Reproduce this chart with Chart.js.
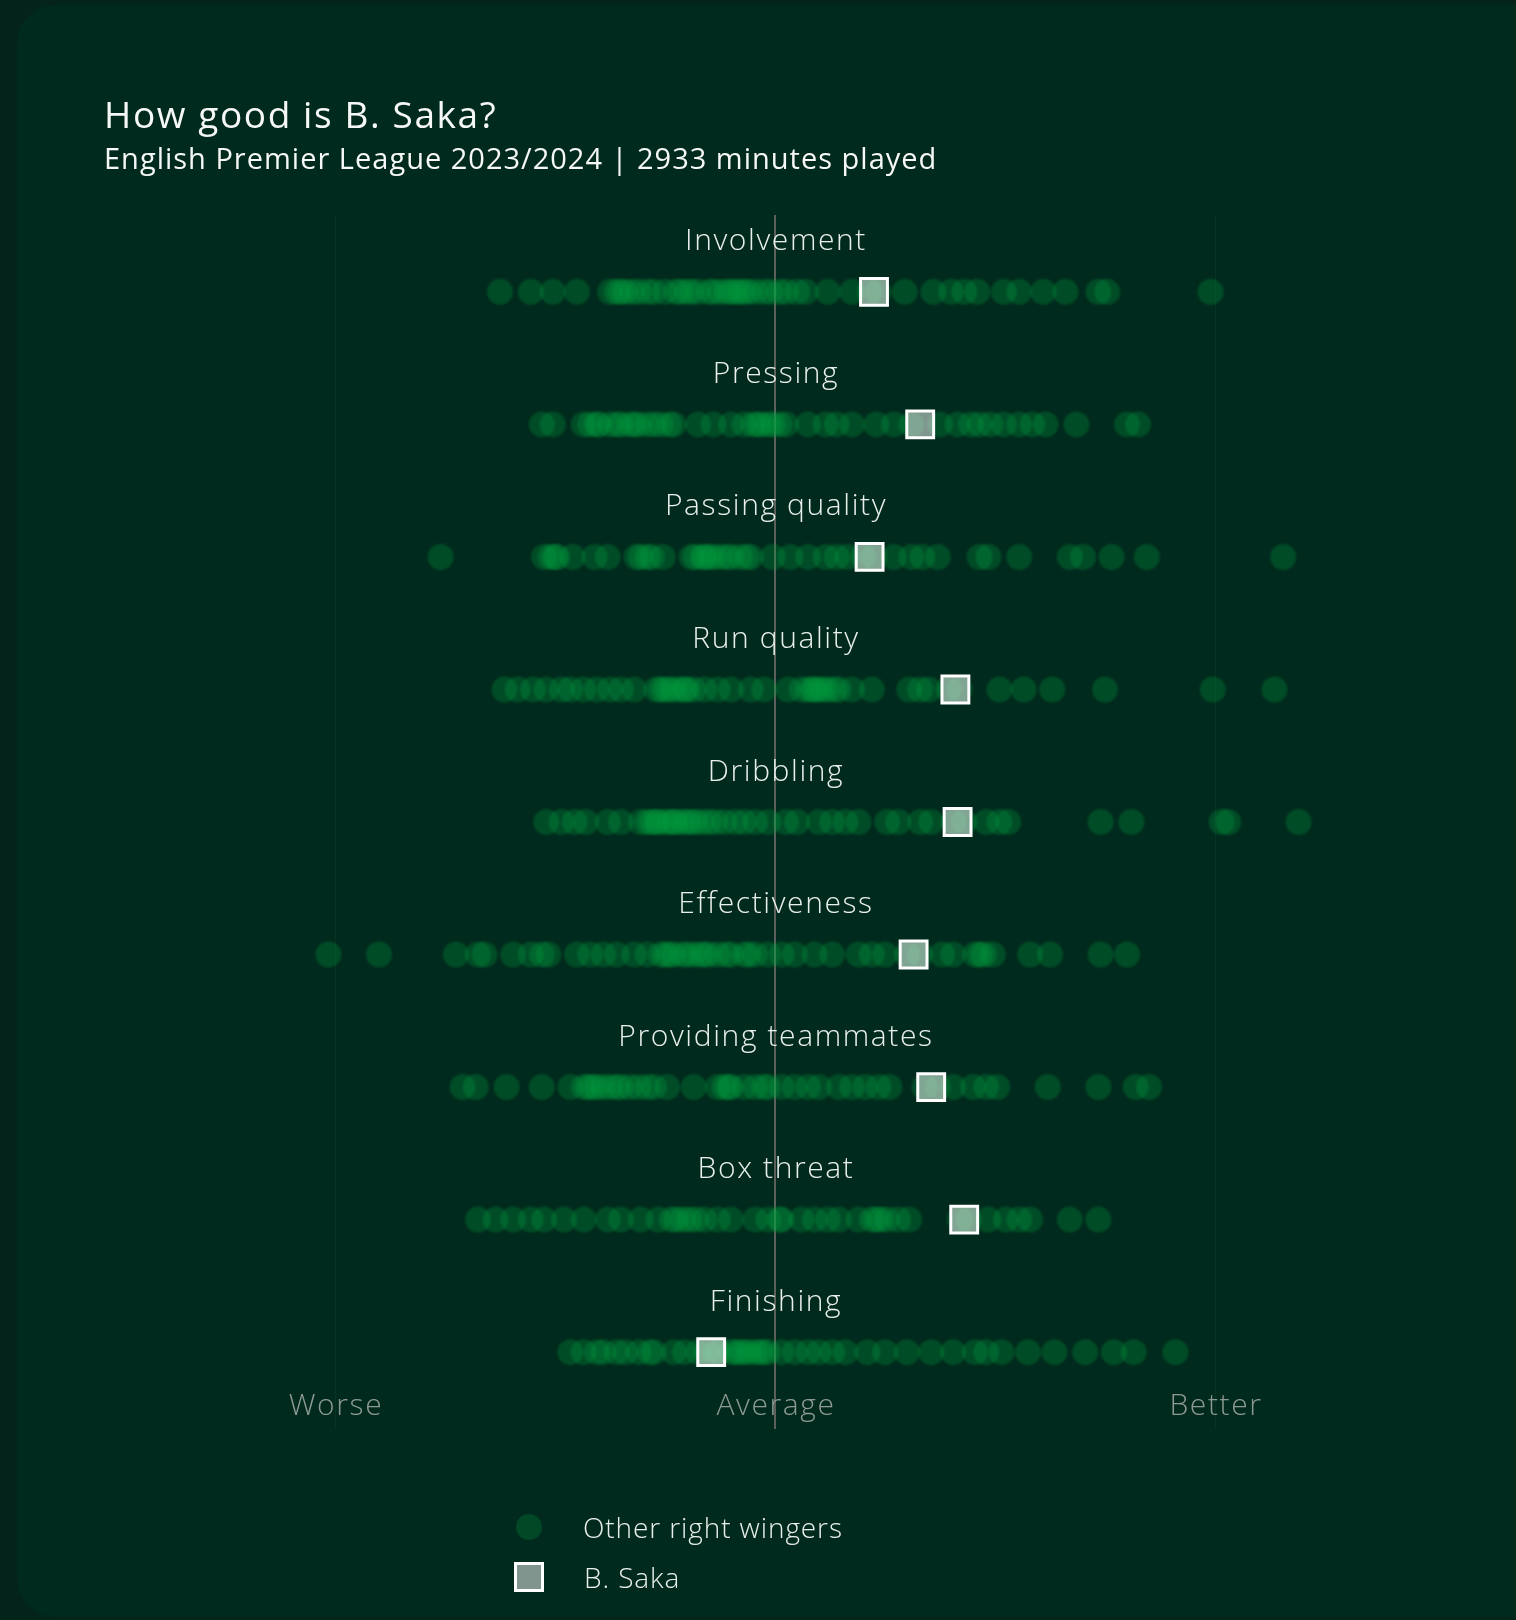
<!DOCTYPE html>
<html>
<head>
<meta charset="utf-8">
<script src="https://cdn.jsdelivr.net/npm/chart.js@4.4.1/dist/chart.umd.min.js"></script>
<style>
  html, body { margin: 0; padding: 0; background: #04231a; overflow: hidden; }
  body { width: 1516px; height: 1620px; position: relative; font-family: "Open Sans", "Noto Sans", sans-serif; }
  .card { position: absolute; left: 17px; top: 5px; width: 1540px; height: 1612px; background: #002a1d; border-radius: 38px; }
  #chart { position: absolute; left: 0; top: 0; }
  .title { position: absolute; left: 104px; top: 88px; color: #f5f8f6; font-size: 37px; font-weight: 400; letter-spacing: 1.6px; white-space: nowrap; }
  .subtitle { position: absolute; left: 104px; top: 138px; color: #f5f8f6; font-size: 29px; font-weight: 400; letter-spacing: 1px; white-space: nowrap; }
  .legend { position: absolute; left: 513px; top: 1502px; color: #e9efeb; font-size: 28px; font-weight: 300; letter-spacing: 0.9px; }
  .legend .item { position: relative; height: 50px; display: flex; align-items: center; }
  .legend .dot { width: 26px; height: 26px; border-radius: 50%; background: rgba(0,160,65,0.26); margin-left: 3px; margin-right: 41px; }
  .legend .sq { width: 24px; height: 24px; background: rgba(255,255,255,0.5); border: 3px solid #ffffff; margin-left: 1px; margin-right: 40px; }
</style>
</head>
<body>
<div class="card"></div>
<canvas id="chart" width="1516" height="1620"></canvas>
<div class="title">How good is B. Saka?</div>
<div class="subtitle">English Premier League 2023/2024 | 2933 minutes played</div>
<div class="legend">
  <div class="item"><div class="dot"></div><span>Other right wingers</span></div>
  <div class="item"><div class="sq"></div><span>B. Saka</span></div>
</div>
<script>
// categorias (de cima para baixo)
const categories = ['Involvement', 'Pressing', 'Passing quality', 'Run quality', 'Dribbling',
    'Effectiveness', 'Providing teammates', 'Box threat', 'Finishing'];

// eixo: Worse / Average / Better
const axisTicks = [-2, 0, 2];
const axisLabels = ['Worse', 'Average', 'Better'];

// B. Saka
const sakaValues = [0.45, 0.66, 0.43, 0.82, 0.83, 0.63, 0.71, 0.86, -0.29];

// outros pontas direitos
const involvement = [-1.25, -1.11, -1.01, -0.90, -0.75, -0.72, -0.70, -0.68, -0.65, -0.62, -0.58, -0.55, -0.50,
    -0.45, -0.43, -0.40, -0.38, -0.35, -0.30, -0.28, -0.25, -0.22, -0.20, -0.18, -0.16, -0.14, -0.12, -0.09,
    -0.05, -0.02, 0.02, 0.05, 0.10, 0.14, 0.24, 0.35, 0.43, 0.47, 0.59, 0.72, 0.80, 0.86, 0.92, 1.04, 1.11,
    1.22, 1.32, 1.47, 1.51, 1.98];
const pressing = [-1.06, -1.01, -0.87, -0.84, -0.81, -0.80, -0.75, -0.72, -0.70, -0.66, -0.64, -0.62, -0.58,
    -0.55, -0.52, -0.48, -0.46, -0.35, -0.28, -0.20, -0.14, -0.10, -0.08, -0.06, -0.03, -0.01, 0.02, 0.05,
    0.15, 0.23, 0.28, 0.35, 0.46, 0.54, 0.62, 0.75, 0.83, 0.89, 0.93, 0.98, 1.04, 1.11, 1.17, 1.23, 1.37,
    1.60, 1.65];
const passingQuality = [-1.52, -1.05, -1.02, -1.00, -0.99, -0.92, -0.82, -0.76, -0.63, -0.61, -0.58, -0.56,
    -0.51, -0.38, -0.36, -0.33, -0.32, -0.30, -0.28, -0.25, -0.22, -0.20, -0.16, -0.13, -0.11, -0.01, 0.07,
    0.15, 0.23, 0.28, 0.33, 0.40, 0.45, 0.54, 0.62, 0.67, 0.74, 0.93, 0.97, 1.11, 1.34, 1.40, 1.53, 1.69, 2.31];
const runQuality = [-1.23, -1.17, -1.10, -1.04, -0.97, -0.93, -0.87, -0.81, -0.75, -0.70, -0.64, -0.54, -0.52,
    -0.50, -0.48, -0.46, -0.43, -0.41, -0.40, -0.37, -0.32, -0.26, -0.20, -0.11, -0.05, 0.06, 0.12, 0.15,
    0.17, 0.18, 0.20, 0.22, 0.24, 0.27, 0.29, 0.35, 0.44, 0.61, 0.66, 0.70, 0.79, 0.84, 1.02, 1.13, 1.26,
    1.50, 1.99, 2.27];
const dribbling = [-1.04, -0.97, -0.91, -0.86, -0.76, -0.70, -0.61, -0.58, -0.56, -0.54, -0.53, -0.50, -0.48,
    -0.46, -0.45, -0.42, -0.40, -0.38, -0.36, -0.33, -0.30, -0.27, -0.23, -0.18, -0.14, -0.09, -0.03, 0.05,
    0.10, 0.20, 0.26, 0.32, 0.38, 0.51, 0.56, 0.66, 0.71, 0.81, 0.86, 0.96, 1.02, 1.06, 1.48, 1.62, 2.03,
    2.06, 2.38];
const effectiveness = [-2.03, -1.80, -1.45, -1.35, -1.32, -1.19, -1.11, -1.06, -1.03, -0.90, -0.84, -0.78, -0.72,
    -0.64, -0.58, -0.52, -0.50, -0.48, -0.46, -0.42, -0.40, -0.37, -0.34, -0.32, -0.30, -0.26, -0.22, -0.20,
    -0.14, -0.12, -0.09, -0.03, 0.03, 0.09, 0.18, 0.26, 0.38, 0.44, 0.50, 0.60, 0.66, 0.76, 0.81, 0.91, 0.93,
    0.95, 0.99, 1.16, 1.25, 1.48, 1.60];
const providingTeammates = [-1.42, -1.36, -1.22, -1.06, -0.93, -0.87, -0.85, -0.83, -0.81, -0.78, -0.75, -0.72,
    -0.70, -0.66, -0.62, -0.58, -0.55, -0.49, -0.37, -0.26, -0.23, -0.21, -0.20, -0.14, -0.09, -0.05, -0.03,
    0.03, 0.09, 0.15, 0.20, 0.29, 0.35, 0.41, 0.47, 0.52, 0.68, 0.74, 0.81, 0.90, 0.96, 1.01, 1.24, 1.47,
    1.64, 1.70];
const boxThreat = [-1.35, -1.27, -1.19, -1.11, -1.05, -0.96, -0.87, -0.76, -0.70, -0.61, -0.53, -0.47, -0.45,
    -0.42, -0.39, -0.36, -0.32, -0.26, -0.20, -0.09, -0.03, 0.02, 0.03, 0.12, 0.18, 0.24, 0.29, 0.38, 0.44,
    0.46, 0.48, 0.51, 0.56, 0.61, 0.84, 0.88, 0.97, 1.05, 1.11, 1.16, 1.34, 1.47];
const finishing = [-0.93, -0.87, -0.81, -0.78, -0.72, -0.68, -0.62, -0.57, -0.55, -0.46, -0.41, -0.35, -0.31,
    -0.27, -0.25, -0.20, -0.18, -0.16, -0.14, -0.12, -0.09, -0.07, -0.05, -0.03, 0.03, 0.09, 0.15, 0.20, 0.26,
    0.32, 0.42, 0.50, 0.60, 0.71, 0.81, 0.91, 0.96, 1.03, 1.15, 1.27, 1.41, 1.54, 1.63, 1.82];

const otherRows = [involvement, pressing, passingQuality, runQuality, dribbling,
    effectiveness, providingTeammates, boxThreat, finishing];

var otherPoints = [];
otherRows.forEach(function (row, i) {
    row.forEach(function (v) { otherPoints.push({ x: v, y: i }); });
});
var sakaPoints = sakaValues.map(function (v, i) { return { x: v, y: i }; });

// deixa as bolinhas um pouco borradas
const softDots = {
    id: 'softDots',
    beforeDatasetDraw(chart, args) {
        if (args.index === 0) { chart.ctx.save(); chart.ctx.filter = 'blur(1px)'; }
    },
    afterDatasetDraw(chart, args) {
        if (args.index === 0) chart.ctx.restore();
    }
};

// nomes das categorias e Worse/Average/Better
const rowLabels = {
    id: 'rowLabels',
    afterDraw(chart) {
        const ctx = chart.ctx;
        const xs = chart.scales.x, ys = chart.scales.y;
        ctx.save();
        ctx.textAlign = 'center';
        ctx.textBaseline = 'middle';
        ctx.font = '300 30px "Open Sans", "Noto Sans", sans-serif';
        ctx.letterSpacing = '1.6px';
        ctx.fillStyle = '#e9efeb';
        categories.forEach(function (c, i) {
            ctx.fillText(c, xs.getPixelForValue(0) + 1, ys.getPixelForValue(i) - 50);
        });
        ctx.fillStyle = '#8d9a93';
        axisLabels.forEach(function (t, i) {
            ctx.fillText(t, xs.getPixelForValue(axisTicks[i]) + 1, ys.getPixelForValue(8) + 54);
        });
        ctx.restore();
    }
};

var grafico = new Chart(document.getElementById('chart').getContext('2d'), {
    type: 'scatter',
    data: {
        datasets: [
            {
                label: 'Other right wingers',
                data: otherPoints,
                order: 1,
                pointRadius: 13,
                pointHoverRadius: 13,
                backgroundColor: 'rgba(0, 165, 65, 0.28)',
                borderWidth: 0,
            },
            {
                label: 'B. Saka',
                data: sakaPoints,
                order: 0,
                pointStyle: 'rect',
                pointRadius: 19,
                pointHoverRadius: 19,
                backgroundColor: 'rgba(255, 255, 255, 0.5)',
                borderColor: '#ffffff',
                borderWidth: 3,
            }
        ]
    },
    options: {
        responsive: false,
        animation: false, // sem animação
        devicePixelRatio: 1,
        layout: { padding: { left: 115, right: 81, top: 215, bottom: 191 } },
        plugins: { legend: { display: false }, tooltip: { enabled: false } },
        scales: {
            x: {
                type: 'linear',
                min: -3,
                max: 3,
                z: 1,
                afterBuildTicks: function (axis) {
                    axis.ticks = axisTicks.map(function (v) { return { value: v }; });
                },
                ticks: { display: false },
                border: { display: false },
                grid: {
                    drawTicks: false,
                    color: function (c) { return c.tick && c.tick.value === 0 ? '#5c605b' : 'rgba(255,255,255,0.035)'; },
                    lineWidth: function (c) { return c.tick && c.tick.value === 0 ? 2 : 1; }
                }
            },
            y: {
                type: 'linear',
                display: false,
                reverse: true,
                min: -0.58,
                max: 8.58
            }
        }
    },
    plugins: [softDots, rowLabels]
});
</script>
</body>
</html>
